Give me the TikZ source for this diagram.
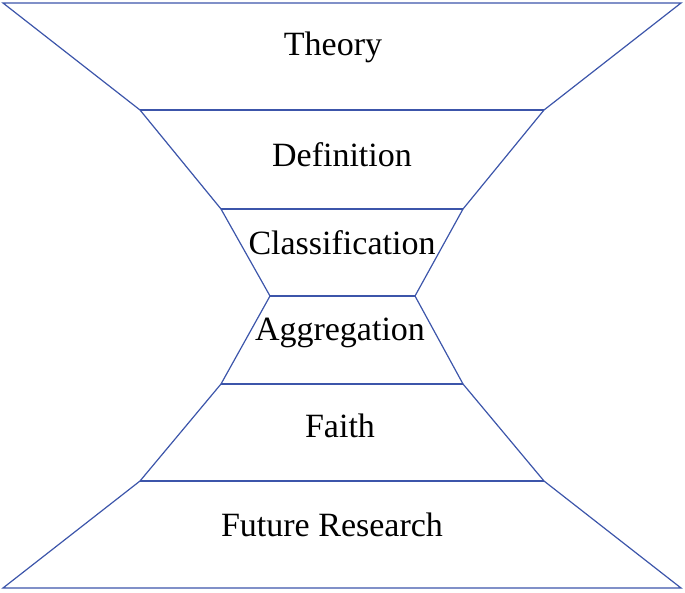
\documentclass[tikz,border=0pt]{standalone}
\usepackage{fontspec}
\setmainfont{Liberation Serif}
\begin{document}
\begin{tikzpicture}[x=1pt,y=-1pt,
  edge/.style={draw={rgb,255:red,60;green,85;blue,170},line width=1.2pt},
  lbl/.style={font=\fontsize{34}{34}\selectfont,inner sep=0pt}]
\useasboundingbox (0,0) rectangle (685,592);
\coordinate (a1) at (3,3); \coordinate (a2) at (681,3);
\coordinate (b1) at (140,110); \coordinate (b2) at (544,110);
\coordinate (c1) at (221,209); \coordinate (c2) at (463,209);
\coordinate (d1) at (270,296); \coordinate (d2) at (415,296);
\coordinate (e1) at (221,384); \coordinate (e2) at (463,384);
\coordinate (f1) at (140,481); \coordinate (f2) at (544,481);
\coordinate (g1) at (3,588); \coordinate (g2) at (681,588);
\draw[edge] (a1)--(a2)--(b2)--(c2)--(d2)--(e2)--(f2)--(g2)--(g1)--(f1)--(e1)--(d1)--(c1)--(b1)--cycle;
\draw[edge] (b1)--(b2);
\draw[edge] (c1)--(c2);
\draw[edge] (d1)--(d2);
\draw[edge,line width=1.6pt] (e1)--(e2);
\draw[edge,line width=1.6pt] (f1)--(f2);
\node[lbl] (t1) at (333,47) {Theory};
\node[lbl] (t2) at (342,155) {Definition};
\node[lbl] (t3) at (342,243) {Classification};
\node[lbl] (t4) at (340,333) {Aggregation};
\node[lbl] (t5) at (340,426) {Faith};
\node[lbl] (t6) at (332,525) {Future Research};
\end{tikzpicture}
\end{document}
